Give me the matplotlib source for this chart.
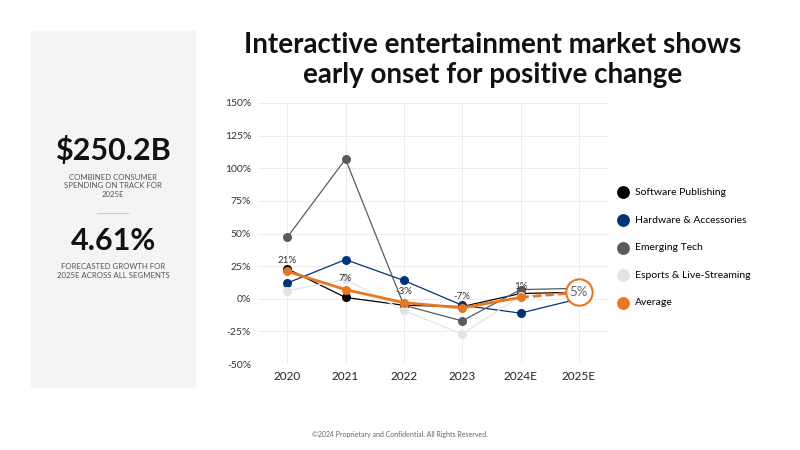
import matplotlib
matplotlib.use("Agg")
import matplotlib.pyplot as plt
from matplotlib.patches import Rectangle

plt.rcParams["font.family"] = ["Lato", "DejaVu Sans"]

years = ["2020", "2021", "2022", "2023", "2024E", "2025E"]

software = [23, 1, -5, -6, 4, 5]
hardware = [12, 30, 14, -5, -11, 0]
emerging = [47, 107, -5, -17, 7, 8]
esports = [6, 15, -9, -27, 2, 4]
average = [21, 7, -3, -7, 1, 5]

avg_labels = ["21%", "7%", "-3%", "-7%", "1%"]

series = [
    ("Software Publishing", software, "#000000"),
    ("Hardware & Accessories", hardware, "#003478"),
    ("Emerging Tech", emerging, "#5b5b5b"),
    ("Esports & Live-Streaming", esports, "#e4e4e4"),
]
avg_color = "#e87722"

fig = plt.figure(figsize=(8, 4.5), dpi=100)

# panel on the left with the key numbers
fig.patches.append(Rectangle((31 / 800, 1 - 387 / 450), 164 / 800, 356 / 450,
                             transform=fig.transFigure, color="#f4f4f4", zorder=0))
fig.text(113 / 800, 1 - 151 / 450, "$250.2B", ha="center", va="center",
         fontsize=22, fontweight="bold", color="#111111")
fig.text(113 / 800, 1 - 186 / 450, "COMBINED CONSUMER\nSPENDING ON TRACK FOR\n2025E",
         ha="center", va="center", fontsize=5.6, color="#555555", linespacing=1.3)
fig.add_artist(plt.Line2D([97 / 800, 128 / 800], [1 - 213 / 450, 1 - 213 / 450],
                          transform=fig.transFigure, color="#cccccc", lw=0.8))
fig.text(113 / 800, 1 - 241 / 450, "4.61%", ha="center", va="center",
         fontsize=22, fontweight="bold", color="#111111")
fig.text(113 / 800, 1 - 271 / 450, "FORECASTED GROWTH FOR\n2025E ACROSS ALL SEGMENTS",
         ha="center", va="center", fontsize=5.6, color="#555555", linespacing=1.3)

fig.text(493 / 800, 1 - 60 / 450,
         "Interactive entertainment market shows\nearly onset for positive change",
         ha="center", va="center", fontsize=20, fontweight="bold", color="#111111",
         linespacing=1.15)

fig.text(400 / 800, 1 - 434 / 450,
         "\u00a92024 Proprietary and Confidential. All Rights Reserved.",
         ha="center", va="center", fontsize=5, color="#666666")

ax = fig.add_axes([258 / 800, 1 - 364 / 450, 350 / 800, 261 / 450])
x = list(range(len(years)))

for name, vals, color in series:
    ax.plot(x, vals, color=color, lw=0.9, zorder=2)
    ax.scatter(x[:-1], vals[:-1], color=color, s=30, zorder=3, label=name)

ax.plot(x[:-1], average[:-1], color=avg_color, lw=2, zorder=4)
ax.plot(x[-2:], average[-2:], color=avg_color, lw=2, ls=(0, (3, 1.5)), zorder=4)
ax.scatter(x[:-1], average[:-1], color=avg_color, s=30, zorder=5, label="Average")

for i, lab in enumerate(avg_labels):
    ax.text(x[i], average[i] + 5, lab, ha="center", va="bottom",
            fontsize=7, color="#333333", zorder=6)

ax.scatter([x[-1]], [average[-1]], s=360, facecolor="white", edgecolor=avg_color,
           lw=1.5, zorder=6)
ax.text(x[-1], average[-1], "5%", ha="center", va="center", fontsize=9.5,
        color="#666666", zorder=7)

ax.set_xlim(-0.5, 5.5)
ax.set_ylim(-50, 150)
ax.set_xticks(x)
ax.set_xticklabels(years, fontsize=8.5, color="#222222")
ax.set_yticks(range(-50, 151, 25))
ax.set_yticklabels([f"{v}%" for v in range(-50, 151, 25)], fontsize=7.5, color="#333333")
ax.tick_params(length=0, pad=5)
ax.grid(True, color="#ececec", lw=0.7)
ax.set_axisbelow(True)
for s in ax.spines.values():
    s.set_visible(False)

ax.legend(loc="center left", bbox_to_anchor=(1.0, 0.446), frameon=False,
          fontsize=7.5, handletextpad=0.2, labelspacing=1.75, markerscale=1.5,
          borderaxespad=0)

fig.savefig("out.png", dpi=100)
